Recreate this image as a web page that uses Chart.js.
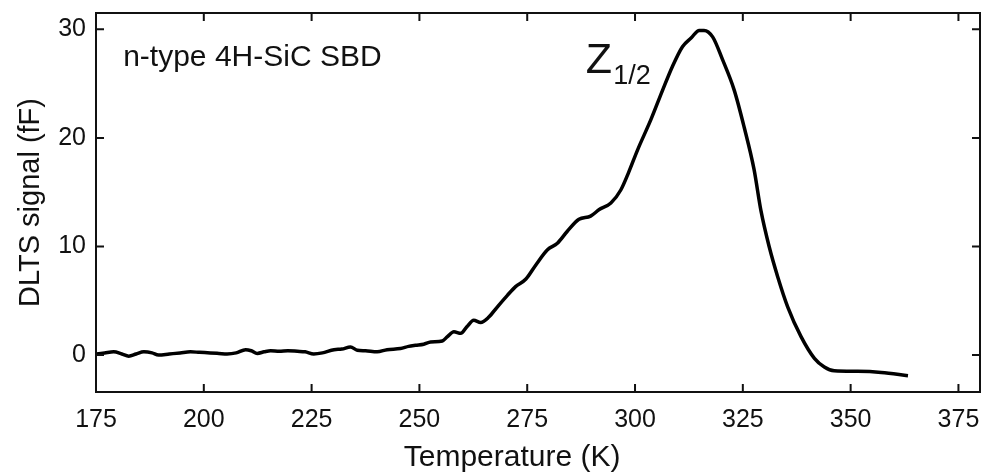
<!DOCTYPE html>
<html>
<head>
<meta charset="utf-8">
<script src="https://cdn.jsdelivr.net/npm/chart.js@4.4.0/dist/chart.umd.min.js"></script>
<style>
    html, body { margin: 0; padding: 0; background: #fff; }
    #wrap { width: 992px; height: 473px; }
</style>
</head>
<body>
<div id="wrap"><canvas id="dltsChart" width="992" height="473"></canvas></div>
<script>
// temperature (K) and DLTS signal (fF)
const temps = [
    175.0, 177.0, 179.1, 181.0, 182.6, 184.3, 186.1, 188.0, 189.5, 192.0,
    194.5, 196.9, 199.0, 201.5, 203.5, 205.4, 207.5, 209.7, 211.0, 212.4,
    214.0, 215.5, 217.5, 219.5, 221.7, 223.5, 225.5, 227.5, 230.2, 232.0,
    234.0, 235.6, 237.5, 240.2, 242.5, 245.6, 247.5, 249.1, 251.0, 252.6,
    255.3, 256.5, 258.0, 259.6, 261.0, 262.6, 264.2, 266.1, 268.0, 270.4,
    272.3, 274.7, 277.0, 279.7, 282.0, 284.3, 287.0, 289.7, 291.7, 294.4,
    296.7, 298.5, 300.6, 303.7, 306.4, 308.7, 311.0, 313.0, 314.9, 316.0,
    318.0, 320.3, 323.0, 325.3, 327.6, 329.2, 331.1, 333.1, 335.4, 338.5,
    341.6, 343.9, 346.2, 351.6, 357.1, 363.3
];
const signal = [
    0.1, 0.2, 0.3, 0.1, -0.1, 0.1, 0.3, 0.2, 0.0, 0.1,
    0.2, 0.3, 0.25, 0.2, 0.15, 0.1, 0.2, 0.5, 0.4, 0.15,
    0.3, 0.4, 0.35, 0.4, 0.35, 0.3, 0.1, 0.2, 0.5, 0.55,
    0.75, 0.45, 0.4, 0.3, 0.5, 0.6, 0.8, 0.9, 1.0, 1.2,
    1.3, 1.7, 2.15, 2.0, 2.6, 3.2, 3.0, 3.5, 4.4, 5.5,
    6.3, 7.0, 8.3, 9.7, 10.3, 11.4, 12.5, 12.8, 13.4, 14.0,
    15.2, 16.8, 18.9, 21.7, 24.4, 26.6, 28.4, 29.2, 29.9, 29.9,
    29.3, 27.2, 24.4, 21.0, 17.1, 13.3, 10.0, 7.2, 4.45, 1.7,
    -0.3, -1.1, -1.45, -1.5, -1.6, -1.9
];
const xTicks = [175, 200, 225, 250, 275, 300, 325, 350, 375];
const yTicks = [0, 10, 20, 30];

const FONT = "'Liberation Sans', Arial, sans-serif";
const ctx = document.getElementById("dltsChart").getContext("2d");

// box around the plot with inward ticks on all four sides, plus the text labels
const framePlugin = {
    id: "frame",
    afterDraw(chart) {
        const { ctx, chartArea: a, scales } = chart;
        const tl = 8;
        ctx.save();
        ctx.strokeStyle = "#111";
        ctx.lineWidth = 2;
        ctx.strokeRect(a.left, a.top, a.right - a.left, a.bottom - a.top);
        ctx.beginPath();
        xTicks.forEach(v => {
            const px = scales.x.getPixelForValue(v);
            ctx.moveTo(px, a.bottom); ctx.lineTo(px, a.bottom - tl);
            ctx.moveTo(px, a.top); ctx.lineTo(px, a.top + tl);
        });
        yTicks.forEach(v => {
            const py = scales.y.getPixelForValue(v);
            ctx.moveTo(a.left, py); ctx.lineTo(a.left + tl, py);
            ctx.moveTo(a.right, py); ctx.lineTo(a.right - tl, py);
        });
        ctx.stroke();

        ctx.fillStyle = "#111";
        // x axis title sits a bit left of the plot centre in the original
        ctx.textAlign = "center";
        ctx.textBaseline = "middle";
        ctx.font = "30px " + FONT;
        ctx.fillText("Temperature (K)", scales.x.getPixelForValue(271.5), chart.height - 15);

        // annotations
        ctx.textBaseline = "alphabetic";
        ctx.textAlign = "left";
        ctx.font = "30px " + FONT;
        ctx.fillText("n-type 4H-SiC SBD", scales.x.getPixelForValue(181.3), scales.y.getPixelForValue(26.6));
        const zx = scales.x.getPixelForValue(288.6);
        const zy = scales.y.getPixelForValue(26.0);
        ctx.font = "43px " + FONT;
        ctx.fillText("Z", zx, zy);
        const zw = ctx.measureText("Z").width;
        ctx.font = "27px " + FONT;
        ctx.fillText("1/2", zx + zw + 1, zy + 11);
        ctx.restore();
    }
};

new Chart(ctx, {
    type: "line",
    data: {
        datasets: [{
            data: temps.map((t, i) => ({ x: t, y: signal[i] })),
            borderColor: "#000",
            borderWidth: 3.5,
            pointRadius: 0,
            cubicInterpolationMode: "monotone",
            fill: false
        }]
    },
    options: {
        responsive: false,
        animation: false,
        layout: { padding: { top: 13, right: 12, left: 0, bottom: 0 } },
        plugins: { legend: { display: false }, tooltip: { enabled: false } },
        scales: {
            x: {
                type: "linear",
                min: 175,
                max: 380,
                afterBuildTicks: s => { s.ticks = xTicks.map(v => ({ value: v })); },
                afterFit: s => { s.height = 81; s.paddingLeft = 0; s.paddingRight = 0; },
                grid: { display: false, drawTicks: false },
                border: { display: false },
                ticks: { color: "#111", padding: 13, maxRotation: 0, font: { family: FONT, size: 25 } },
                title: { display: false }
            },
            y: {
                type: "linear",
                min: -3.4,
                max: 31.5,
                afterBuildTicks: s => { s.ticks = yTicks.map(v => ({ value: v })); },
                afterFit: s => { s.width = 96; s.paddingTop = 0; s.paddingBottom = 0; },
                grid: { display: false, drawTicks: false },
                border: { display: false },
                ticks: { color: "#111", padding: 10, font: { family: FONT, size: 25 } },
                title: {
                    display: true,
                    text: "DLTS signal (fF)",
                    color: "#111",
                    padding: { top: 14, bottom: 0 },
                    font: { family: FONT, size: 29 }
                }
            }
        }
    },
    plugins: [framePlugin]
});
</script>
</body>
</html>
